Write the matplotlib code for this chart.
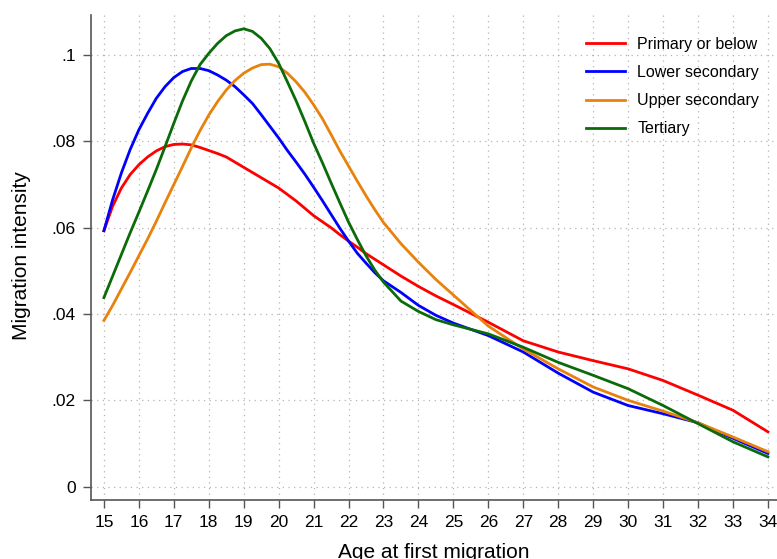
import matplotlib
matplotlib.use("Agg")
import matplotlib.pyplot as plt
from matplotlib.ticker import FuncFormatter

# ---------------------------------------------------------------------------
# Data: migration intensity by age at first migration
# ---------------------------------------------------------------------------
ages = [15, 15.25, 15.5, 15.75, 16, 16.25, 16.5, 16.75, 17, 17.25, 17.5, 17.75,
        18, 18.25, 18.5, 18.75, 19, 19.25, 19.5, 19.75, 20, 20.25, 20.5, 20.75,
        21, 21.25, 21.5, 21.75, 22, 22.25, 22.5, 22.75, 23,
        23.5, 24, 24.5, 25, 26, 27, 28, 29, 30, 31, 32, 33, 34]

primary = [.0593, .0650, .0692, .0723, .0746, .0764, .0778, .0788, .0793, .0794,
           .0792, .0786, .0779, .0772, .0764, .0752, .0740, .0728, .0716, .0704,
           .0692, .0677, .0662, .0645, .0628, .0614, .0600, .0584, .0569, .0555,
           .0540, .0527, .0514,
           .0488, .0464, .0442, .0422, .0381, .0338, .0312, .0292, .0273, .0246,
           .0212, .0177, .0127]

lower_sec = [.0593, .0665, .0727, .0781, .0827, .0865, .0900, .0927, .0948, .0962,
             .0969, .0969, .0964, .0954, .0942, .0927, .0908, .0888, .0862, .0835,
             .0808, .0779, .0752, .0724, .0694, .0663, .0631, .0599, .0569, .0541,
             .0518, .0496, .0477,
             .0450, .0420, .0397, .0379, .0350, .0312, .0263, .0219, .0188, .0169,
             .0148, .0112, .0077]

upper_sec = [.0385, .0420, .0458, .0496, .0535, .0574, .0615, .0658, .0700, .0742,
             .0785, .0825, .0861, .0892, .0919, .0941, .0958, .0970, .0978, .0979,
             .0973, .0958, .0938, .0914, .0885, .0853, .0816, .0778, .0743, .0708,
             .0674, .0642, .0612,
             .0563, .0520, .0480, .0444, .0372, .0319, .0273, .0231, .0200, .0175,
             .0148, .0115, .0081]

tertiary = [.0438, .0488, .0538, .0588, .0636, .0685, .0735, .0788, .0842, .0894,
            .0940, .0978, .1004, .1027, .1045, .1056, .1061, .1055, .1039, .1015,
            .0981, .0938, .0894, .0846, .0796, .0751, .0704, .0658, .0613, .0573,
            .0535, .0502, .0474,
            .0430, .0406, .0387, .0375, .0354, .0323, .0288, .0258, .0227, .0188,
            .0146, .0104, .0069]

series_labels = ["Primary or below", "Lower secondary", "Upper secondary", "Tertiary"]
x_ticks = list(range(15, 35))
y_ticks = [0, 0.02, 0.04, 0.06, 0.08, 0.1]

# ---------------------------------------------------------------------------
plt.rcParams["font.family"] = ["Liberation Sans", "DejaVu Sans"]

fig = plt.figure(figsize=(7.77, 5.59), dpi=100)
ax = fig.add_axes([0.1171, 0.1055, 0.8829, 0.8677])

colors = ["#ff0000", "#0000ff", "#e8820c", "#0b6b0b"]
for ys, lab, col in zip([primary, lower_sec, upper_sec, tertiary], series_labels, colors):
    ax.plot(ages, ys, color=col, linewidth=2, label=lab, solid_joinstyle="round")

ax.set_xlim(14.63, 34.26)
ax.set_ylim(-0.0031, 0.1093)
ax.set_xticks(x_ticks)
ax.set_yticks(y_ticks)


def fmt_y(v, pos):
    if abs(v) < 1e-9:
        return "0"
    s = ("%.2f" % v).rstrip("0")
    return s[1:] if s.startswith("0") else s


ax.yaxis.set_major_formatter(FuncFormatter(fmt_y))
ax.tick_params(axis="both", labelsize=12.5, length=6, width=1, color="#555555",
               direction="out", pad=5)

ax.grid(True, color="#b4b4b4", linestyle=(0, (1, 3.5)), linewidth=0.9)
ax.set_axisbelow(True)

for side in ["top", "right"]:
    ax.spines[side].set_visible(False)
for side in ["left", "bottom"]:
    ax.spines[side].set_color("#555555")
    ax.spines[side].set_linewidth(1.2)

ax.set_xlabel("Age at first migration", fontsize=15)
ax.set_ylabel("Migration intensity", fontsize=15)
ax.xaxis.set_label_coords(0.5, -0.088)
ax.yaxis.set_label_coords(-0.088, 0.505)

ax.legend(loc="upper right", bbox_to_anchor=(0.995, 0.985), frameon=False,
          fontsize=11.5, handlelength=2.4, handletextpad=0.8, labelspacing=0.83)

fig.savefig("out.png", dpi=100)
